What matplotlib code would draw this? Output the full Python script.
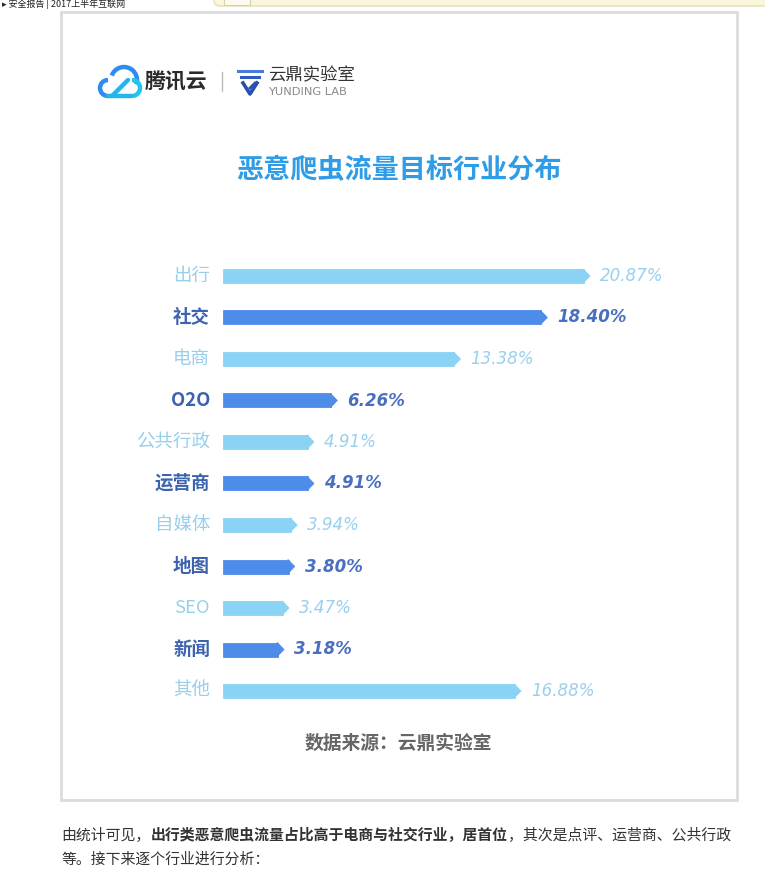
import matplotlib
matplotlib.use("Agg")
import matplotlib.pyplot as plt
from matplotlib.patches import Rectangle, Polygon, Arc, FancyBboxPatch

plt.rcParams['font.family'] = ['Noto Sans CJK SC', 'DejaVu Sans']

# ---------------- data ----------------
categories = ["出行", "社交", "电商", "O2O", "公共行政", "运营商", "自媒体", "地图", "SEO", "新闻", "其他"]
values = [20.87, 18.40, 13.38, 6.26, 4.91, 4.91, 3.94, 3.80, 3.47, 3.18, 16.88]
value_labels = ["20.87%", "18.40%", "13.38%", "6.26%", "4.91%", "4.91%", "3.94%", "3.80%", "3.47%", "3.18%", "16.88%"]
dark_rows = [False, True, False, True, False, True, False, True, False, True, False]
title = "恶意爬虫流量目标行业分布"
source = "数据来源：云鼎实验室"
para1 = [("由统计可见，", "normal"), ("出行类恶意爬虫流量占比高于电商与社交行业，居首位", "bold"),
         ("，其次是点评、运营商、公共行政", "normal")]
para2 = "等。接下来逐个行业进行分析："

LIGHT_BAR = "#8BD3F4"
DARK_BAR = "#4E8CEA"
LIGHT_TXT = "#97CFEC"
DARK_TXT = "#3D63AE"

W, H = 765, 871
fig = plt.figure(figsize=(W / 100, H / 100), dpi=100)
fig.patch.set_facecolor("white")

# decoration layer in pixel coordinates
deco = fig.add_axes([0, 0, 1, 1])
deco.set_xlim(0, W)
deco.set_ylim(H, 0)
deco.axis("off")

# top strip (browser fragment)
deco.add_patch(FancyBboxPatch((214, -10), 600, 16, boxstyle="round,pad=0,rounding_size=6",
                              facecolor="#FBF7DC", edgecolor="#E6DFB5", lw=1))
deco.add_patch(Rectangle((224, -4), 26, 9, facecolor="#FDFBEF", edgecolor="#D8D2B0", lw=0.8))
deco.text(2, 4, "▸ 安全报告 | 2017上半年互联网", fontsize=6.5, color="#222222", va="center", ha="left")

# infographic frame
deco.add_patch(Rectangle((61, 12), 676, 788, facecolor="white", edgecolor="#DCDCDC", lw=2))

# --- Tencent cloud logo ---
deco.add_patch(Arc((124, 80), 26, 26, theta1=200, theta2=20, color="#2E8CF0", lw=3.2))
deco.add_patch(Arc((108, 88), 16, 16, theta1=90, theta2=270, color="#2E8CF0", lw=3.2))
deco.plot([108, 132], [96, 96], color="#25B4EC", lw=3.2, solid_capstyle="round")
deco.plot([112, 128], [96, 80], color="#25B4EC", lw=3.2, solid_capstyle="round")
deco.add_patch(Arc((132, 88), 16, 16, theta1=270, theta2=80, color="#21C6EA", lw=3.2))
deco.text(145, 82, "腾讯云", fontsize=15, fontweight="bold", color="#2B2B2B", va="center", ha="left")
deco.plot([222, 222], [72, 91], color="#BBBBBB", lw=1)

# --- Yunding lab logo ---
deco.plot([238, 262], [71, 71], color="#4A7BD6", lw=2.2)
deco.plot([241, 259], [77, 77], color="#2F5BC0", lw=2.2)
deco.plot([243, 250, 257], [83, 94, 83], color="#2B4FAE", lw=2.6)
deco.plot([250, 255], [88, 83], color="#2B4FAE", lw=2.0)
deco.text(268, 75, "云鼎实验室", fontsize=12.5, color="#333333", va="center", ha="left")
deco.text(268, 92, "YUNDING LAB", fontsize=8.2, color="#8A8A8A", va="center", ha="left",
          family="DejaVu Sans")

# title
deco.text(399, 170, title, fontsize=19.5, fontweight="bold", color="#2E9CE6", va="center", ha="center")

# source
deco.text(398, 743, source, fontsize=13.5, fontweight="bold", color="#666666", va="center", ha="center")

# paragraph below the frame
em = 14.9
fs_p = em * 72 / 100
x = 61
for seg, wt in para1:
    deco.text(x, 835, seg, fontsize=fs_p, fontweight=wt, color="#333333", va="center", ha="left")
    x += em * len(seg)
deco.text(61, 860, para2, fontsize=fs_p, color="#333333", va="center", ha="left")

# ---------------- bar chart ----------------
PX_PER_UNIT = 17.3
ROW_PX = 41.5
x0_px, y_top_px = 223, 276 - ROW_PX / 2
n = len(categories)
xmax = 24
ax = fig.add_axes([x0_px / W, 1 - (y_top_px + n * ROW_PX) / H, xmax * PX_PER_UNIT / W, n * ROW_PX / H])
ax.set_xlim(0, xmax)
ax.set_ylim(n - 0.5, -0.5)
ax.axis("off")
ax.patch.set_alpha(0)

ypos = list(range(n))
colors = [DARK_BAR if d else LIGHT_BAR for d in dark_rows]
bar_h = 14 / ROW_PX
ax.barh(ypos, values, height=bar_h, color=colors, edgecolor=colors, linewidth=0.6, left=0)
tip_w = 6 / PX_PER_UNIT
for y, v, c in zip(ypos, values, colors):
    ax.add_patch(Polygon([(v - 0.05, y - bar_h / 2), (v + tip_w, y), (v - 0.05, y + bar_h / 2)],
                         closed=True, facecolor=c, edgecolor=c, linewidth=0.6))

for y, v, cat, lab, d in zip(ypos, values, categories, value_labels, dark_rows):
    tc = DARK_TXT if d else LIGHT_TXT
    ax.annotate(cat, xy=(0, y), xytext=(-13, 0), textcoords="offset pixels",
                ha="right", va="center", fontsize=13.3, color=tc,
                fontweight="bold" if d else "normal")
    ax.annotate(lab, xy=(v, y), xytext=(16, 0), textcoords="offset pixels",
                ha="left", va="center", fontsize=13.3, color=("#4A6FBE" if d else "#9AD0EE"),
                family="DejaVu Sans", style="oblique", fontstretch="condensed",
                fontweight="bold" if d else "normal")

fig.savefig("out.png", dpi=100, facecolor="white")
